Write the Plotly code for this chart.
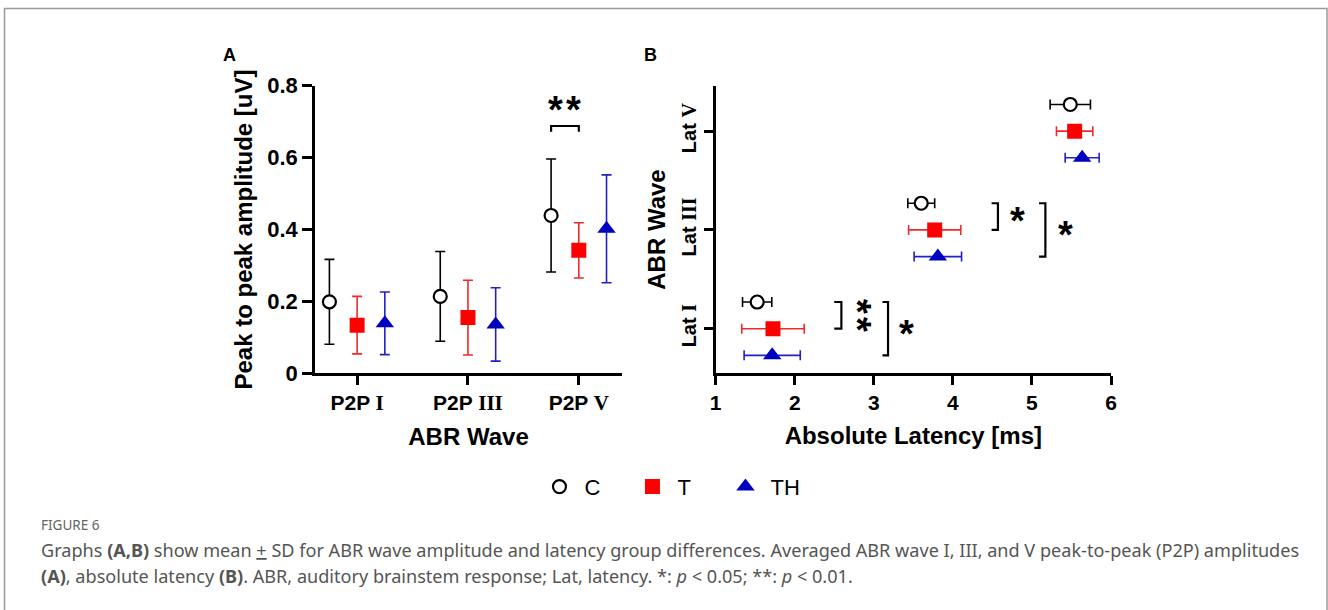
import plotly.graph_objects as go

# ---------------- data ----------------
groups = ["C", "T", "TH"]

amp_categories = ["P2P I", "P2P III", "P2P V"]
amp_mean_C = [0.199, 0.214, 0.439]
amp_sd_C = [0.118, 0.125, 0.157]
amp_mean_T = [0.134, 0.155, 0.342]
amp_sd_T = [0.080, 0.104, 0.077]
amp_mean_TH = [0.139, 0.136, 0.402]
amp_sd_TH = [0.087, 0.102, 0.150]
amp_yticks = [0, 0.2, 0.4, 0.6, 0.8]

lat_categories = ["Lat I", "Lat III", "Lat V"]
lat_mean_C = [1.525, 3.600, 5.485]
lat_sd_C = [0.185, 0.170, 0.255]
lat_mean_T = [1.725, 3.770, 5.540]
lat_sd_T = [0.395, 0.330, 0.230]
lat_mean_TH = [1.715, 3.810, 5.635]
lat_sd_TH = [0.355, 0.300, 0.215]
lat_xticks = [1, 2, 3, 4, 5, 6]

# ---------------- style ----------------
SANS = "Liberation Sans, Arial, sans-serif"
SERIF = "Liberation Serif, Times New Roman, serif"
styles = {
    "C": dict(symbol="circle", size=13, color="white", line=dict(color="black", width=2.2), err="black"),
    "T": dict(symbol="square", size=15, color="#ff0000", line=dict(color="#ff0000", width=0), err="#ee2a2a"),
    "TH": dict(symbol="triangle-up", size=16, color="#0000c0", line=dict(color="#0000c0", width=0), err="#2020c8"),
}
offsets = {"C": -0.25, "T": 0.0, "TH": 0.25}
lat_offsets = {"C": 0.27, "T": 0.0, "TH": -0.27}

amp_data = {"C": (amp_mean_C, amp_sd_C), "T": (amp_mean_T, amp_sd_T), "TH": (amp_mean_TH, amp_sd_TH)}
lat_data = {"C": (lat_mean_C, lat_sd_C), "T": (lat_mean_T, lat_sd_T), "TH": (lat_mean_TH, lat_sd_TH)}

def roman_label(txt):
    head, num = txt.split(" ")
    return f"<b>{head} <span style='font-family:{SERIF}'>{num}</span></b>"

fig = go.Figure()

for g in groups:
    st = styles[g]
    m, s = amp_data[g]
    fig.add_trace(go.Scatter(
        x=[i + offsets[g] for i in range(len(amp_categories))], y=m,
        mode="markers", name=g, legendgroup=g, showlegend=True,
        marker=dict(symbol=st["symbol"], size=st["size"], color=st["color"], line=st["line"]),
        error_y=dict(type="data", array=s, visible=True, color=st["err"], thickness=1.6, width=5),
        xaxis="x", yaxis="y",
    ))

for g in groups:
    st = styles[g]
    m, s = lat_data[g]
    fig.add_trace(go.Scatter(
        x=m, y=[i + lat_offsets[g] for i in range(len(lat_categories))],
        mode="markers", name=g, legendgroup=g, showlegend=False,
        marker=dict(symbol=st["symbol"], size=st["size"], color=st["color"], line=st["line"]),
        error_x=dict(type="data", array=s, visible=True, color=st["err"], thickness=1.6, width=5),
        xaxis="x2", yaxis="y2",
    ))

axis_common = dict(showline=True, linecolor="black", linewidth=2.5, ticks="outside",
                   tickcolor="black", tickwidth=2.5, showgrid=False, zeroline=False,
                   mirror=False, automargin=False)

dom_y = [0.388, 0.8595]
fig.update_layout(
    width=1328, height=610,
    margin=dict(l=0, r=0, t=0, b=0, pad=0, autoexpand=False),
    paper_bgcolor="white", plot_bgcolor="white",
    font=dict(family=SANS, color="black"),
    xaxis=dict(domain=[0.2372, 0.4684], range=[-0.38, 2.39], anchor="y",
               tickvals=list(range(len(amp_categories))),
               ticktext=[roman_label(c) for c in amp_categories],
               tickfont=dict(size=21, family=SANS), ticklen=9,
               title=dict(text="<b>ABR Wave</b>", font=dict(size=24, family=SANS), standoff=14),
               **axis_common),
    yaxis=dict(domain=dom_y, range=[0, 0.8], anchor="x",
               tickvals=amp_yticks, ticktext=[f"<b>{v:g}</b>" for v in amp_yticks],
               tickfont=dict(size=22, family=SANS), ticklen=10,
               title=dict(text="<b>Peak to peak amplitude [uV]</b>", font=dict(size=24, family=SANS), standoff=8),
               **axis_common),
    xaxis2=dict(domain=[0.5389, 0.8366], range=[1, 6], anchor="y2",
                tickvals=lat_xticks, ticktext=[f"<b>{v}</b>" for v in lat_xticks],
                tickfont=dict(size=21, family=SANS), ticklen=9,
                title=dict(text="<b>Absolute Latency [ms]</b>", font=dict(size=24, family=SANS), standoff=14),
                **axis_common),
    yaxis2=dict(domain=dom_y, range=[-0.452, 2.46], anchor="x2",
                tickvals=list(range(len(lat_categories))),
                ticktext=[roman_label(c) for c in lat_categories],
                tickfont=dict(size=20, family=SANS), ticklen=9, tickangle=-90,
                title=dict(text="<b>ABR Wave</b>", font=dict(size=24, family=SANS), standoff=6),
                **axis_common),
    legend=dict(orientation="h", x=0.5075, y=0.202, xanchor="center", yanchor="middle",
                font=dict(size=22, family=SANS), itemwidth=40, entrywidth=38,
                bgcolor="rgba(0,0,0,0)"),
)

# significance brackets
brk = dict(type="path", line=dict(color="black", width=2.2))
fig.add_shape(xref="x", yref="y", path="M 1.75 0.672 L 1.75 0.688 L 2.0 0.688 L 2.0 0.672", **brk)
fig.add_shape(xref="x2", yref="y2", path="M 2.50 0.27 L 2.59 0.27 L 2.59 0.0 L 2.50 0.0", **brk)
fig.add_shape(xref="x2", yref="y2", path="M 3.11 0.27 L 3.18 0.27 L 3.18 -0.27 L 3.11 -0.27", **brk)
fig.add_shape(xref="x2", yref="y2", path="M 4.49 1.27 L 4.57 1.27 L 4.57 1.0 L 4.49 1.0", **brk)
fig.add_shape(xref="x2", yref="y2", path="M 5.09 1.27 L 5.17 1.27 L 5.17 0.73 L 5.09 0.73", **brk)

star_font = dict(size=38, family=SANS, color="black")
# (xref, yref, x, y, text, textangle)
stars = [
    ("x", "y", 1.875, 0.742, "<b>*&#8202;*</b>", 0),
    ("x2", "y2", 2.87, 0.134, "<b>*&#8202;*</b>", 90),
    ("x2", "y2", 3.41, -0.02, "<b>*</b>", 0),
    ("x2", "y2", 4.82, 1.12, "<b>*</b>", 0),
    ("x2", "y2", 5.43, 0.98, "<b>*</b>", 0),
]
for xr, yr, xv, yv, t, ang in stars:
    fig.add_annotation(xref=xr, yref=yr, x=xv, y=yv, text=t, showarrow=False,
                       font=star_font, xanchor="center", yanchor="middle",
                       textangle=ang,
                       xshift=(-7 if ang == 90 else 0), yshift=(0 if ang == 90 else -3))

# panel letters
fig.add_annotation(xref="paper", yref="paper", x=230 / 1328, y=1 - 55 / 610, text="<b>A</b>",
                   showarrow=False, font=dict(size=18, family=SANS), xanchor="center", yanchor="middle")
fig.add_annotation(xref="paper", yref="paper", x=650 / 1328, y=1 - 55 / 610, text="<b>B</b>",
                   showarrow=False, font=dict(size=18, family=SANS), xanchor="center", yanchor="middle")

# caption
CAP = "Noto Sans, Open Sans, sans-serif"
fig.add_annotation(xref="paper", yref="paper", x=39 / 1328, y=1 - 525 / 610, text="FIGURE 6",
                   showarrow=False, font=dict(size=13.5, family=CAP, color="#646464"),
                   xanchor="left", yanchor="middle")
fig.add_annotation(xref="paper", yref="paper", x=39 / 1328, y=1 - 550 / 610,
                   text="Graphs <b>(A,B)</b> show mean <u>+</u> SD for ABR wave amplitude and latency group differences. "
                        "Averaged ABR wave I, III, and V peak-to-peak (P2P) amplitudes",
                   showarrow=False, font=dict(size=18.1, family=CAP, color="#555555"),
                   xanchor="left", yanchor="middle")
fig.add_annotation(xref="paper", yref="paper", x=39 / 1328, y=1 - 576 / 610,
                   text="<b>(A)</b>, absolute latency <b>(B)</b>. ABR, auditory brainstem response; Lat, latency. "
                        "*: <i>p</i> &lt; 0.05; **: <i>p</i> &lt; 0.01.",
                   showarrow=False, font=dict(size=18.1, family=CAP, color="#555555"),
                   xanchor="left", yanchor="middle")

# outer frame
fig.add_shape(type="rect", xref="paper", yref="paper", x0=4.5 / 1328, x1=1327 / 1328,
              y0=-0.05, y1=1 - 8.5 / 610, line=dict(color="#9a9a9a", width=1.5))

fig.write_html("out.html", config={"displayModeBar": False},
               post_script="document.body.style.margin='0px';")
